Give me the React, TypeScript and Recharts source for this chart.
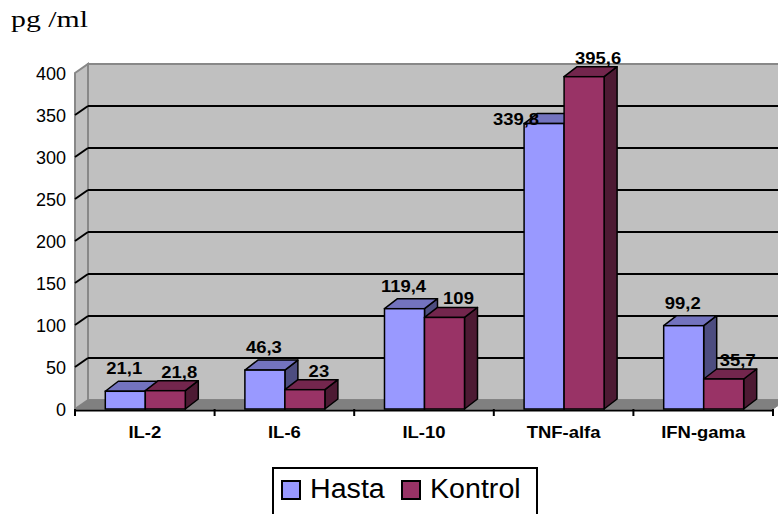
import React from 'react';
import { BarChart, Bar, XAxis, YAxis, CartesianGrid, LabelList, Legend } from 'recharts';

// Cytokine levels (pg/ml), patients vs. controls
const categories = ['IL-2', 'IL-6', 'IL-10', 'TNF-alfa', 'IFN-gama'];
const hastaValues = [21.1, 46.3, 119.4, 339.8, 99.2];
const kontrolValues = [21.8, 23, 109, 395.6, 35.7];
const yTicks = [0, 50, 100, 150, 200, 250, 300, 350, 400];
const seriesNames = ['Hasta', 'Kontrol'];

const data = categories.map((name, i) => ({
  name,
  hasta: hastaValues[i],
  kontrol: kontrolValues[i],
}));

const SANS = '"Liberation Sans", Arial, Helvetica, sans-serif';
const SERIF = '"Liberation Serif", "Times New Roman", serif';

// depth of the 3D boxes and of the chart walls
const BAR_DX = 13;
const BAR_DY = 10;
const WALL_DX = 13;
const WALL_DY = 9;

// bold texts are drawn slightly wide
const WIDE = 1.12;

const HASTA = { front: '#9999FF', top: '#7373BF', side: '#4D4D80' };
const KONTROL = { front: '#993366', top: '#73264D', side: '#4D1A33' };

const fmt = (v: number) => String(v).replace('.', ',');

function makeBox(colors: { front: string; top: string; side: string }) {
  return (p: any) => {
    const { x, y, width: w, height: h } = p;
    if (x == null || y == null || !w || h == null) return <g />;
    const topFace = `${x},${y} ${x + BAR_DX},${y - BAR_DY} ${x + w + BAR_DX},${y - BAR_DY} ${x + w},${y}`;
    const sideFace = `${x + w},${y} ${x + w + BAR_DX},${y - BAR_DY} ${x + w + BAR_DX},${y + h - BAR_DY} ${x + w},${y + h}`;
    return (
      <g>
        <polygon points={sideFace} fill={colors.side} stroke="#000" strokeWidth={1.5} strokeLinejoin="round" />
        <polygon points={topFace} fill={colors.top} stroke="#000" strokeWidth={1.5} strokeLinejoin="round" />
        <rect x={x} y={y} width={w} height={h} fill={colors.front} stroke="#000" strokeWidth={1.5} />
      </g>
    );
  };
}

const HastaBox = makeBox(HASTA);
const KontrolBox = makeBox(KONTROL);

function labelGeom(p: any) {
  const vb = p.viewBox || {};
  return {
    x: p.x ?? vb.x,
    y: p.y ?? vb.y,
    w: p.width ?? vb.width,
  };
}

function BoldText(props: { x: number; y: number; anchor: 'start' | 'middle' | 'end'; size: number; children: any }) {
  return (
    <text
      transform={`translate(${props.x},${props.y}) scale(${WIDE},1)`}
      x={0}
      y={0}
      textAnchor={props.anchor}
      fontFamily={SANS}
      fontSize={props.size}
      fontWeight="bold"
      fill="#000"
    >
      {props.children}
    </text>
  );
}

const HastaLabel = (p: any) => {
  const { x, y, w } = labelGeom(p);
  if (x == null || y == null) return null;
  const cx = x + w / 2;
  const v = Number(p.value);
  const neighbour = kontrolValues[p.index];
  // when the control bar beside it rises far above, the label sits to the left of the bar top
  if (neighbour - v > 30) {
    return (
      <BoldText x={cx - 5} y={y + 1} anchor="end" size={16.5}>
        {fmt(v)}
      </BoldText>
    );
  }
  return (
    <BoldText x={cx - 1} y={y - 17} anchor="middle" size={16.5}>
      {fmt(v)}
    </BoldText>
  );
};

const KontrolLabel = (p: any) => {
  const { x, y, w } = labelGeom(p);
  if (x == null || y == null) return null;
  const cx = x + w / 2;
  return (
    <BoldText x={cx + 14} y={y - 13} anchor="middle" size={16.5}>
      {fmt(Number(p.value))}
    </BoldText>
  );
};

const YTick = (p: any) => (
  <text x={p.x - 9} y={p.y + 6.5} textAnchor="end" fontFamily={SANS} fontSize={18} fill="#000">
    {p.payload.value}
  </text>
);

const XTick = (p: any) => (
  <BoldText x={p.x} y={p.y + 29} anchor="middle" size={16.5}>
    {p.payload.value}
  </BoldText>
);

// walls, floor, axis line and the gridlines drawn on the back and side walls
const gridLine = (p: any) => {
  const { x1, x2, y1, index } = p;
  const pts: number[] = p.horizontalPoints && p.horizontalPoints.length ? p.horizontalPoints : [];
  const top = p.y != null ? p.y : Math.min(...pts);
  const bottom = p.height != null && p.y != null ? p.y + p.height : Math.max(...pts);
  const left = x1;
  const right = x2;
  const isEdge = Math.abs(y1 - top) < 0.5 || Math.abs(y1 - bottom) < 0.5;
  const n = categories.length;
  return (
    <g key={`grid-${index}`}>
      {index === 0 && (
        <g>
          <polygon
            points={`${left + WALL_DX},${top - WALL_DY} ${right + WALL_DX},${top - WALL_DY} ${right + WALL_DX},${bottom - WALL_DY} ${left + WALL_DX},${bottom - WALL_DY}`}
            fill="#C0C0C0"
            stroke="#888888"
            strokeWidth={2}
          />
          <polygon
            points={`${left},${top} ${left + WALL_DX},${top - WALL_DY} ${left + WALL_DX},${bottom - WALL_DY} ${left},${bottom}`}
            fill="#C0C0C0"
            stroke="#888888"
            strokeWidth={2}
          />
          <polygon
            points={`${left},${bottom} ${right},${bottom} ${right + WALL_DX},${bottom - WALL_DY} ${left + WALL_DX},${bottom - WALL_DY}`}
            fill="#808080"
            stroke="#808080"
            strokeWidth={1}
          />
          <line x1={left} y1={bottom + 1.5} x2={right} y2={bottom + 1.5} stroke="#000" strokeWidth={2} />
          {Array.from({ length: n + 1 }, (_, i) => {
            const tx = left + (i * (right - left)) / n;
            return <line key={i} x1={tx} y1={bottom} x2={tx} y2={bottom + 7} stroke="#000" strokeWidth={2} />;
          })}
        </g>
      )}
      {!isEdge && (
        <g>
          <line x1={left} y1={y1} x2={left + WALL_DX} y2={y1 - WALL_DY} stroke="#000" strokeWidth={2} />
          <line x1={left + WALL_DX} y1={y1 - WALL_DY} x2={right + WALL_DX} y2={y1 - WALL_DY} stroke="#000" strokeWidth={2} />
        </g>
      )}
    </g>
  );
};

const LegendBox = (props: any) => {
  const items = props.payload || [];
  return (
    <svg width={266} height={50} style={{ display: 'block' }}>
      <rect x={1} y={1} width={264} height={60} fill="#fff" stroke="#000" strokeWidth={2} />
      {items.map((it: any, i: number) => {
        const x0 = 10 + i * 120;
        return (
          <g key={i}>
            <rect x={x0} y={14} width={18} height={18} fill={it.color} stroke="#000" strokeWidth={2} />
            <text
              transform={`translate(${x0 + 28},31) scale(1.06,1)`}
              x={0}
              y={0}
              fontFamily={SANS}
              fontSize={27}
              fill="#000"
            >
              {it.value}
            </text>
          </g>
        );
      })}
    </svg>
  );
};

export default function App() {
  return (
    <div
      style={{
        position: 'absolute',
        left: 0,
        top: 0,
        width: 778,
        height: 514,
        background: '#fff',
        overflow: 'hidden',
      }}
    >
      <svg width={140} height={40} style={{ position: 'absolute', left: 0, top: 0 }}>
        <text x={11} y={27} fontFamily={SERIF} fontSize={24} textLength={77} lengthAdjust="spacingAndGlyphs" fill="#000">
          pg /ml
        </text>
      </svg>
      <BarChart
        width={778}
        height={514}
        data={data}
        margin={{ top: 73, right: 5, bottom: 65, left: 0 }}
        barCategoryGap="21.7%"
        barGap={0}
      >
        <CartesianGrid vertical={false} horizontal={gridLine} />
        <XAxis
          dataKey="name"
          interval={0}
          height={40}
          axisLine={false}
          tickLine={false}
          tickSize={0}
          tickMargin={0}
          tick={XTick}
        />
        <YAxis
          type="number"
          domain={[0, 400]}
          ticks={yTicks}
          interval={0}
          width={75}
          axisLine={false}
          tickLine={false}
          tickSize={0}
          tickMargin={0}
          tick={YTick}
        />
        <Bar dataKey="hasta" name={seriesNames[0]} fill={HASTA.front} shape={HastaBox} isAnimationActive={false}>
          <LabelList dataKey="hasta" content={HastaLabel} />
        </Bar>
        <Bar dataKey="kontrol" name={seriesNames[1]} fill={KONTROL.front} shape={KontrolBox} isAnimationActive={false}>
          <LabelList dataKey="kontrol" content={KontrolLabel} />
        </Bar>
        <Legend
          layout="horizontal"
          verticalAlign="middle"
          align="center"
          wrapperStyle={{ left: 272, top: 467, width: 266, height: 50 }}
          content={LegendBox}
        />
      </BarChart>
    </div>
  );
}
